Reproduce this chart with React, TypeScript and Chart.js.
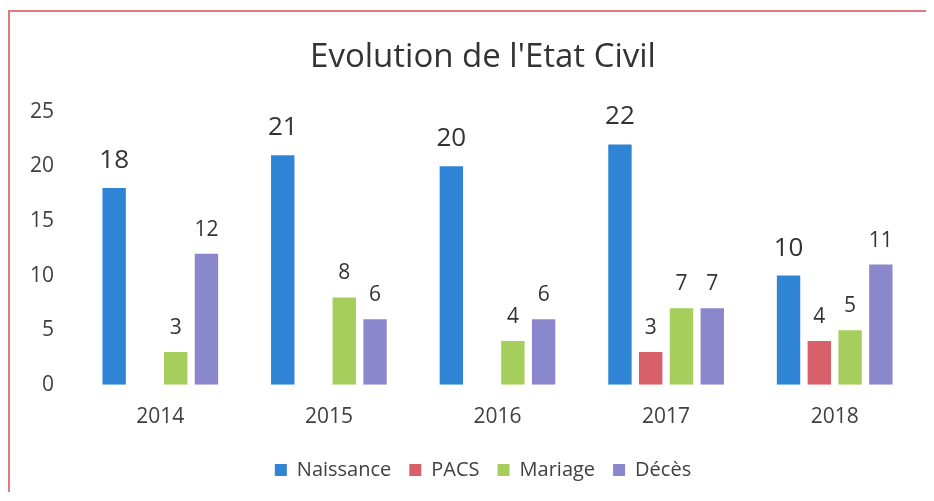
import React, { useEffect, useRef } from "react";
import { Chart, registerables } from "chart.js";

Chart.register(...registerables);

const years = ["2014", "2015", "2016", "2017", "2018"];
const naissance = [18, 21, 20, 22, 10];
const pacs: (number | null)[] = [null, null, null, 3, 4];
const mariage = [3, 8, 4, 7, 5];
const deces = [12, 6, 6, 7, 11];
const yTicks = [0, 5, 10, 15, 20, 25];

const FONT = "'Open Sans', 'Noto Sans', sans-serif";
const TEXT = "#404040";

const labelPlugin = {
  id: "valueLabels",
  afterDatasetsDraw(chart: any) {
    const ctx = chart.ctx;
    ctx.save();
    ctx.textAlign = "center";
    ctx.textBaseline = "alphabetic";
    ctx.fillStyle = "#333333";
    chart.data.datasets.forEach((ds: any, i: number) => {
      const meta = chart.getDatasetMeta(i);
      meta.data.forEach((bar: any, j: number) => {
        const v = ds.data[j];
        if (v === null || v === undefined) return;
        ctx.font = i === 0 ? `26px ${FONT}` : `21px ${FONT}`;
        ctx.fillText(String(v), bar.x, bar.y - (i === 0 ? 20 : 18));
      });
    });
    ctx.restore();
  },
};

export default function App() {
  const ref = useRef<HTMLCanvasElement>(null);
  useEffect(() => {
    if (!ref.current) return;
    const chart = new Chart(ref.current, {
      type: "bar",
      data: {
        labels: years,
        datasets: [
          { label: "Naissance", data: naissance, backgroundColor: "#2f84d6" },
          { label: "PACS", data: pacs, backgroundColor: "#d8606b" },
          { label: "Mariage", data: mariage, backgroundColor: "#a6ce5c" },
          { label: "Décès", data: deces, backgroundColor: "#8a87cd" },
        ],
      },
      options: {
        responsive: false,
        animation: false,
        layout: { padding: { left: 0, right: 0, top: 0, bottom: 2 } },
        datasets: { bar: { categoryPercentage: 0.73, barPercentage: 0.76 } },
        plugins: {
          title: {
            display: true,
            text: "Evolution de l'Etat Civil",
            color: "#333333",
            font: { family: FONT, size: 33, weight: "normal" },
            padding: { top: 26, bottom: 34 },
          },
          legend: {
            position: "bottom",
            labels: {
              color: TEXT,
              font: { family: FONT, size: 20 },
              boxWidth: 12,
              boxHeight: 12,
              padding: 18,
            },
          },
          tooltip: { enabled: false },
        },
        scales: {
          x: {
            grid: { display: false },
            border: { display: false },
            ticks: { color: TEXT, font: { family: FONT, size: 21 }, padding: 12 },
          },
          y: {
            min: 0,
            max: 25,
            afterFit: (s: any) => {
              s.width = 66;
            },
            afterBuildTicks: (s: any) => {
              s.ticks = yTicks.map((v) => ({ value: v }));
            },
            grid: { display: false },
            border: { display: false },
            ticks: { color: TEXT, font: { family: FONT, size: 21 }, padding: 14 },
          },
          yRight: {
            position: "right",
            display: true,
            min: 0,
            max: 25,
            afterFit: (s: any) => {
              s.width = 37;
            },
            grid: { display: false },
            border: { display: false },
            ticks: { display: false },
          },
        },
      },
      plugins: [labelPlugin],
    });
    return () => chart.destroy();
  }, []);
  return (
    <div style={{ paddingTop: 2 }}>
      <div
        style={{
          borderTop: "2px solid #e07880",
          borderLeft: "2px solid #e07880",
          width: 916,
          height: 480,
          overflow: "hidden",
        }}
      >
        <canvas ref={ref} width={946} height={480} style={{ display: "block", width: 946, height: 480 }} />
      </div>
    </div>
  );
}
